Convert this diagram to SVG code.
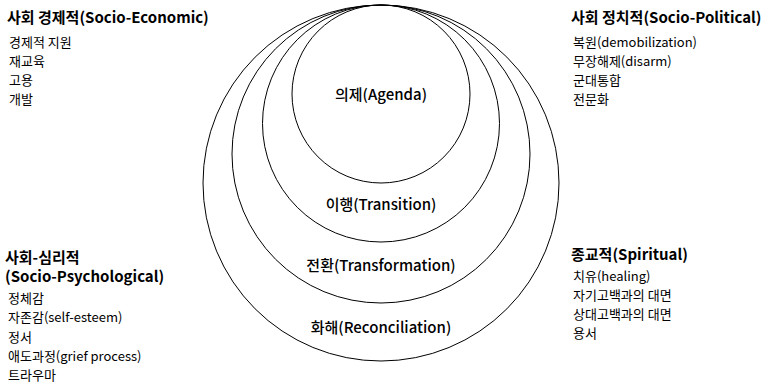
<svg xmlns="http://www.w3.org/2000/svg" width="771" height="385" viewBox="0 0 771 385">
<style>
text{font-family:"Noto Sans CJK KR","Noto Sans",sans-serif;fill:#000}
.h{font-size:15px;font-weight:700}
.i{font-size:13px;font-weight:400}
.c{font-size:15px;font-weight:500;text-anchor:middle}
.ring{fill:none;stroke:#000;stroke-width:1}
</style>
<rect width="771" height="385" fill="#fff"/>
<g id="reconciliation">
<circle class="ring" cx="381" cy="183" r="178"/>
<text class="c" x="381" y="333">화해(Reconciliation)</text>
</g>
<g id="transformation">
<circle class="ring" cx="381" cy="154" r="149"/>
<text class="c" x="381" y="271">전환(Transformation)</text>
</g>
<g id="transition">
<circle class="ring" cx="381" cy="123.5" r="118.5"/>
<text class="c" x="381" y="210">이행(Transition)</text>
</g>
<g id="agenda">
<circle class="ring" cx="381" cy="94" r="89"/>
<text class="c" x="381" y="100">의제(Agenda)</text>
</g>
<g id="socio-economic">
<text class="h" x="7" y="23">사회 경제적(Socio-Economic)</text>
<text class="i" x="9" y="47">경제적 지원</text>
<text class="i" x="9" y="66">재교육</text>
<text class="i" x="9" y="85">고용</text>
<text class="i" x="9" y="104">개발</text>
</g>
<g id="socio-political">
<text class="h" x="571" y="23">사회 정치적(Socio-Political)</text>
<text class="i" x="573" y="47">복원(demobilization)</text>
<text class="i" x="573" y="66">무장해제(disarm)</text>
<text class="i" x="573" y="85">군대통합</text>
<text class="i" x="573" y="104">전문화</text>
</g>
<g id="socio-psychological">
<text class="h" x="5" y="263">사회-심리적</text>
<text class="h" x="5" y="282">(Socio-Psychological)</text>
<text class="i" x="8" y="303">정체감</text>
<text class="i" x="8" y="322">자존감(self-esteem)</text>
<text class="i" x="8" y="342">정서</text>
<text class="i" x="8" y="361">애도과정(grief process)</text>
<text class="i" x="8" y="380">트라우마</text>
</g>
<g id="spiritual">
<text class="h" x="571" y="260">종교적(Spiritual)</text>
<text class="i" x="573" y="281">치유(healing)</text>
<text class="i" x="573" y="300">자기고백과의 대면</text>
<text class="i" x="573" y="319">상대고백과의 대면</text>
<text class="i" x="573" y="338">용서</text>
</g>
<g id="connectors"/>
</svg>
